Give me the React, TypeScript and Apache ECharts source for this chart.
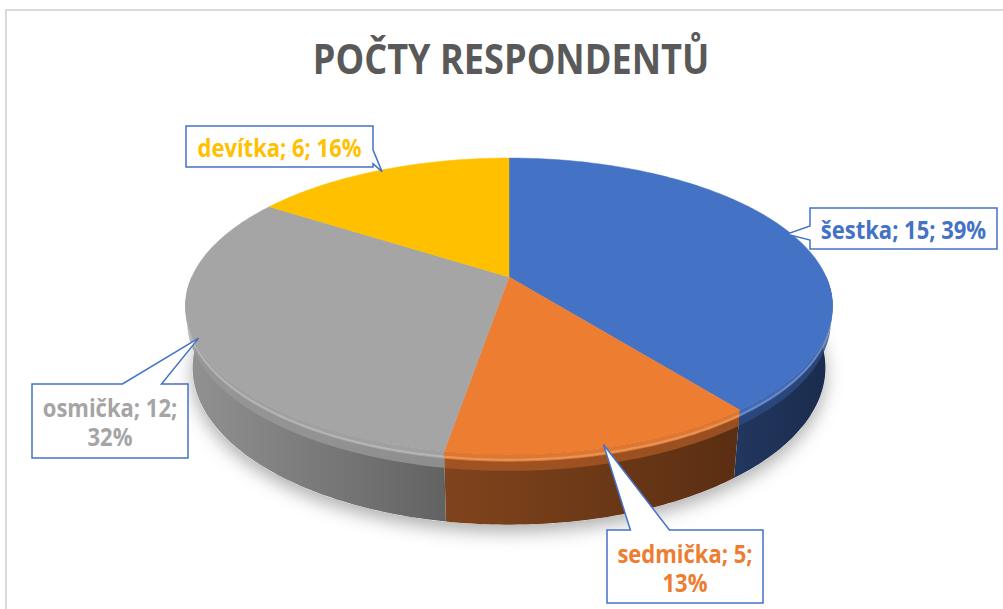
import React, { useEffect, useRef } from "react";
import * as echarts from "echarts";

// ---- data ----
const TITLE = "POČTY RESPONDENTŮ";
const CATEGORIES = ["šestka", "sedmička", "osmička", "devítka"];
const VALUES = [15, 5, 12, 6];
const TOP_COLORS = ["#4472c4", "#ed7d31", "#a5a5a5", "#ffc000"];
const SIDE_COLORS = [
  ["#22375f", "#1a2b4c"],
  ["#80441c", "#5a2e13"],
  ["#929292", "#626262"],
  ["#b88a00", "#8a6600"],
];
const BEVEL_COLORS_A = ["#4169b5", "#e0772f", "#a0a0a0", "#f0b400"];
const BEVEL_COLORS_B = ["#2e4b82", "#a95724", "#989898", "#c99a00"];
const LABEL_WRAP = [false, true, true, false];

// ---- layout (3D projection and callout boxes) ----
const CX = 509, CY = 277, F = 1436, D = 4.527, SA = 0.449, CA = 0.893, H = 0.218;
// box: x, y, w, h, side of pointer, base fraction from, to
const LABEL_BOXES = [
  { x: 810, y: 208, w: 187, h: 41, side: "left", f0: 0.44, f1: 0.78 },
  { x: 607, y: 530, w: 156, h: 73, side: "top", f0: 0.15, f1: 0.40 },
  { x: 32, y: 384, w: 156, h: 74, side: "top", f0: 0.58, f1: 0.83 },
  { x: 186, y: 126, w: 187, h: 41, side: "right", f0: 0.58, f1: 0.92 },
];

const FONT = '"Open Sans", "Noto Sans", sans-serif';

function proj(theta: number, Y: number, r = 1): number[] {
  const X = r * Math.sin(theta);
  const Z = r * Math.cos(theta);
  const yc = Z * SA + Y * CA;
  const zc = D + Z * CA - Y * SA;
  return [CX + (F * X) / zc, CY - (F * yc) / zc];
}

function arc(a0: number, a1: number, Y: number): number[][] {
  const n = Math.max(2, Math.ceil(((a1 - a0) * 180) / Math.PI));
  const pts: number[][] = [];
  for (let k = 0; k <= n; k++) pts.push(proj(a0 + ((a1 - a0) * k) / n, Y));
  return pts;
}

function band(a0: number, a1: number, y0: number, y1: number): number[][] {
  return arc(a0, a1, y0).concat(arc(a0, a1, y1).reverse());
}

function calloutPoints(b: any, tip: number[]): number[][] {
  const { x, y, w, h, side, f0, f1 } = b;
  const pts: number[][] = [[x, y]];
  if (side === "top") pts.push([x + w * f0, y], tip, [x + w * f1, y]);
  pts.push([x + w, y]);
  if (side === "right") pts.push([x + w, y + h * f0], tip, [x + w, y + h * f1]);
  pts.push([x + w, y + h], [x, y + h]);
  if (side === "left") pts.push([x, y + h * f1], tip, [x, y + h * f0]);
  return pts;
}

export default function App() {
  const ref = useRef<HTMLDivElement>(null);
  useEffect(() => {
    if (!ref.current) return;
    const chart = echarts.init(ref.current, null, { renderer: "svg" });
    const total = VALUES.reduce((s, v) => s + v, 0);
    const cum: number[] = [];
    VALUES.reduce((s, v, i) => ((cum[i] = s), s + v), 0);

    const renderItem = (params: any, api: any) => {
      const i = params.dataIndex;
      const v = api.value(0);
      const a0 = (cum[i] / total) * Math.PI * 2;
      const a1 = ((cum[i] + v) / total) * Math.PI * 2;
      const children: any[] = [];

      if (i === 0) {
        children.push({
          type: "polygon",
          z2: 0,
          shape: { points: arc(0, Math.PI * 2, -H) },
          style: {
            fill: "#ffffff",
            shadowBlur: 18,
            shadowColor: "rgba(0,0,0,0.32)",
            shadowOffsetY: 7,
          },
          silent: true,
        });
      }

      // side
      const s0 = Math.max(a0, Math.PI / 2);
      const s1 = Math.min(a1, (Math.PI * 3) / 2);
      if (s1 > s0) {
        children.push({
          type: "polygon",
          z2: 1,
          shape: { points: band(s0, s1, 0, -H) },
          style: {
            fill: new echarts.graphic.LinearGradient(0, 0, 1, 0, [
              { offset: 0, color: SIDE_COLORS[i][0] },
              { offset: 1, color: SIDE_COLORS[i][1] },
            ]),
          },
          silent: true,
        });
        children.push({
          type: "polygon",
          z2: 2,
          shape: { points: band(s0, s1, -0.02, -0.05) },
          style: { fill: BEVEL_COLORS_B[i], opacity: 0.8 },
          silent: true,
        });
        children.push({
          type: "polygon",
          z2: 3,
          shape: { points: band(s0, s1, 0, -0.022) },
          style: { fill: BEVEL_COLORS_A[i] },
          silent: true,
        });
        children.push({
          type: "polyline",
          z2: 4,
          shape: { points: arc(s0, s1, -0.016) },
          style: { stroke: "rgba(255,255,255,0.22)", lineWidth: 2, fill: "none" },
          silent: true,
        });
      }

      // top face
      children.push({
        type: "polygon",
        z2: 5,
        shape: { points: [[CX, CY]].concat(arc(a0, a1, 0)) },
        style: { fill: TOP_COLORS[i], stroke: TOP_COLORS[i], lineWidth: 0.5 },
        silent: true,
      });

      // callout
      const mid = (a0 + a1) / 2;
      const tip = proj(mid, 0, 0.985);
      const b = LABEL_BOXES[i];
      children.push({
        type: "polygon",
        z2: 10,
        shape: { points: calloutPoints(b, tip) },
        style: { fill: "#ffffff", stroke: "#4472c4", lineWidth: 1.5 },
        silent: true,
      });
      const pct = Math.round((v / total) * 100);
      const name = CATEGORIES[i];
      const text = LABEL_WRAP[i]
        ? `${name}; ${v};\n${pct}%`
        : `${name}; ${v}; ${pct}%`;
      children.push({
        type: "text",
        z2: 11,
        x: b.x + b.w / 2,
        y: b.y + b.h / 2 + 1,
        scaleX: 0.88,
        style: {
          text,
          fill: TOP_COLORS[i],
          font: `bold 25px ${FONT}`,
          align: "center",
          verticalAlign: "middle",
          lineHeight: 29,
        },
        silent: true,
      });
      return { type: "group", children };
    };

    chart.setOption({
      animation: false,
      backgroundColor: "#ffffff",
      graphic: [
        {
          type: "rect",
          shape: { x: 6, y: 10, width: 1100, height: 700 },
          style: { fill: "none", stroke: "#d9d9d9", lineWidth: 2 },
          silent: true,
        },
        {
          type: "text",
          x: 511,
          y: 57,
          scaleX: 0.86,
          style: {
            text: TITLE,
            font: `bold 42px ${FONT}`,
            fill: "#595959",
            align: "center",
            verticalAlign: "middle",
            textAlign: "center",
            textVerticalAlign: "middle",
          },
          silent: true,
        },
      ],
      series: [
        {
          type: "custom",
          coordinateSystem: "none",
          renderItem,
          data: VALUES.map((v, i) => ({ name: CATEGORIES[i], value: [v] })),
        },
      ],
    });
    return () => chart.dispose();
  }, []);
  return (
    <div
      ref={ref}
      style={{ position: "absolute", left: 0, top: 0, width: 1003, height: 609 }}
    />
  );
}
